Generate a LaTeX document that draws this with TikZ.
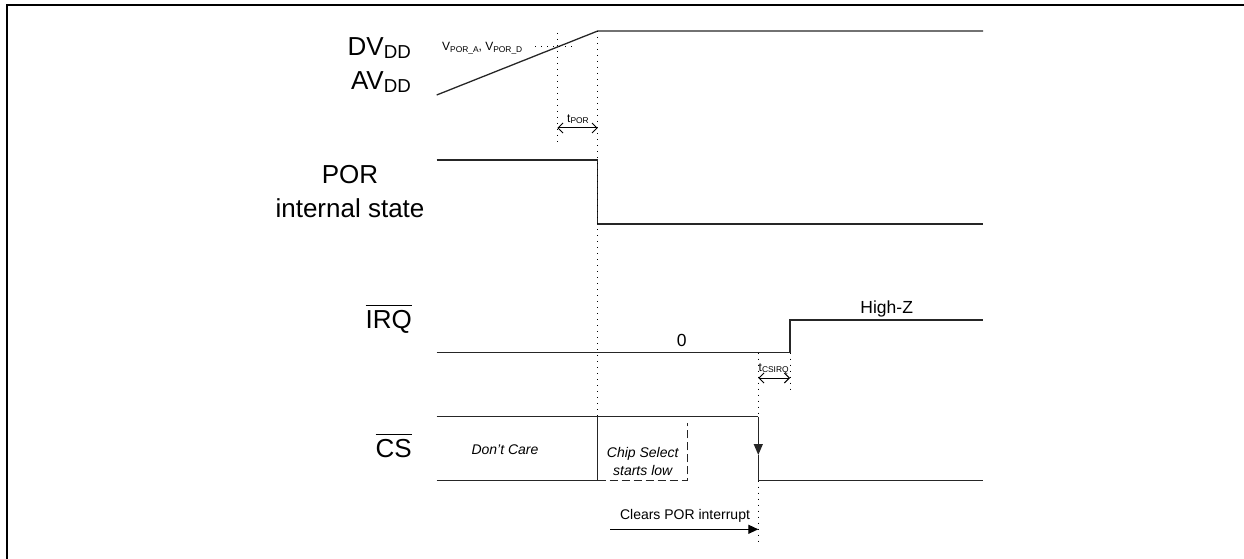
\documentclass[tikz,border=0pt]{standalone}
\usepackage{fontspec}
\setmainfont{Liberation Sans}
\usetikzlibrary{arrows.meta}
\newcommand\lsub[1]{\raisebox{-0.1em}{\scalebox{0.72}{#1}}}
\newcommand\ssub[1]{\raisebox{-0.15em}{\scalebox{0.7}{#1}}}
\newcommand\ovl[1]{\leavevmode\vbox{\hrule height 1.2pt\kern 3.5pt\hbox{#1}}}
\tikzset{
  sig/.style={line width=1.3pt, black!85},
  dots/.style={line width=1pt, dash pattern=on 1pt off 5pt, black},
  frame/.style={line width=1.7pt, black},
  big/.style={font=\fontsize{26}{30}\selectfont, inner sep=0pt},
  mid/.style={font=\fontsize{17.5}{20}\selectfont, inner sep=0pt},
  small/.style={font=\fontsize{14}{17}\selectfont, inner sep=0pt},
  note/.style={font=\fontsize{14}{18}\selectfont\itshape, inner sep=0pt, align=center},
  tiny/.style={font=\fontsize{12}{14}\selectfont, inner sep=0pt},
  dbl/.style={line width=1pt, {Straight Barb[length=5pt,width=10pt]}-{Straight Barb[length=5pt,width=10pt]}},
}
\begin{document}
\begin{tikzpicture}[x=1pt,y=-1pt]
\useasboundingbox (0,0) rectangle (1244,559);
% frame
\coordinate (fbl) at (6.7,559);
\coordinate (ftl) at (6.7,4.8);
\coordinate (ftr) at (1244,4.8);
\draw[frame] (fbl) -- (ftl) -- (ftr);

% labels
\node[big, anchor=base east] (dvdd) at (411,56) {DV\lsub{DD}};
\node[big, anchor=base east] (avdd) at (411,90) {AV\lsub{DD}};
\node[big, anchor=base] (por) at (350,183) {POR};
\node[big, anchor=base] (pori) at (350,217) {internal state};
\node[big, anchor=base east] (irq) at (412,328) {\ovl{IRQ}};
\node[big, anchor=base east] (cs) at (412,457) {\ovl{CS}};

% supply ramp
\coordinate (r0) at (436.7,95);
\coordinate (r1) at (597.7,31);
\coordinate (r2) at (983,31);
\draw[sig] (r0) -- (r1) -- (r2);
\node[tiny, anchor=base west] (vpor) at (442,51) {V\ssub{POR\_A}, V\ssub{POR\_D}};
\coordinate (th0) at (535,47);
\coordinate (th1) at (574,47);
\draw[dots] (th0) -- (th1);

% POR internal state
\coordinate (p0) at (436.7,160);
\coordinate (p1) at (597.7,160);
\coordinate (p2) at (597.7,224);
\coordinate (p3) at (983,224);
\draw[sig] (p0) -- (p1) -- (p2) -- (p3);

% tPOR
\coordinate (d1t) at (557.3,33);
\coordinate (d1b) at (557.3,142);
\draw[dots] (d1t) -- (d1b);
\coordinate (d2t) at (597.7,31);
\coordinate (d2b) at (597.7,416.7);
\draw[dots] (d2t) -- (d2b);
\coordinate (ta) at (557.3,128);
\coordinate (tb) at (597.7,128);
\draw[dbl] (ta) -- (tb);
\node[tiny, anchor=base] (tpor) at (578,122) {t\ssub{POR}};

% IRQ
\coordinate (i0) at (436.7,352.7);
\coordinate (i1) at (790,352.7);
\coordinate (i2) at (790,320);
\coordinate (i3) at (983,320);
\draw[sig] (i0) -- (i1) -- (i2) -- (i3);
\node[mid] (zero) at (681.7,340) {0};
\node[mid] (highz) at (886.7,309) {High-Z};

% tCSIRQ
\coordinate (d3t) at (758.3,352.7);
\coordinate (d3b) at (758.3,416.7);
\draw[dots] (d3t) -- (d3b);
\coordinate (d3c) at (758.3,480.7);
\coordinate (d3e) at (758.3,546);
\draw[dots] (d3c) -- (d3e);
\coordinate (d4t) at (790,352.7);
\coordinate (d4b) at (790,390);
\draw[dots] (d4t) -- (d4b);
\coordinate (ca) at (758.3,378);
\coordinate (cb) at (790,378);
\draw[dbl] (ca) -- (cb);
\node[tiny, anchor=base west] (tcs) at (758.5,371) {t\ssub{CSIRQ}};

% CS
\coordinate (c0) at (436.7,416.7);
\coordinate (c1) at (758.3,416.7);
\coordinate (cm) at (758.3,455);
\coordinate (c2) at (758.3,480.7);
\coordinate (c3) at (983,480.7);
\draw[sig] (c0) -- (c1);
\draw[sig, -{Triangle[length=11pt,width=9pt]}] (c1) -- (cm);
\draw[sig] (cm) -- (c2) -- (c3);
\coordinate (l0) at (436.7,480.7);
\coordinate (l1) at (597.7,480.7);
\coordinate (v0) at (597.7,416.7);
\draw[sig] (l0) -- (l1);
\draw[sig] (v0) -- (l1);
\coordinate (dsh1) at (687.3,480.7);
\coordinate (dsh2) at (687.3,422.7);
\draw[sig, dashed, dash pattern=on 8pt off 4pt] (l1) -- (dsh1) -- (dsh2);
\node[note] (dc) at (505,450) {Don’t Care};
\node[note] (csl) at (642.7,461) {Chip Select\\starts low};

% clears POR interrupt
\node[small] (clr) at (685,516) {Clears POR interrupt};
\coordinate (a0) at (610,529.3);
\coordinate (a1) at (758.3,529.3);
\draw[line width=1.3pt, -{Triangle[length=10pt,width=9pt]}] (a0) -- (a1);
\end{tikzpicture}
\end{document}
